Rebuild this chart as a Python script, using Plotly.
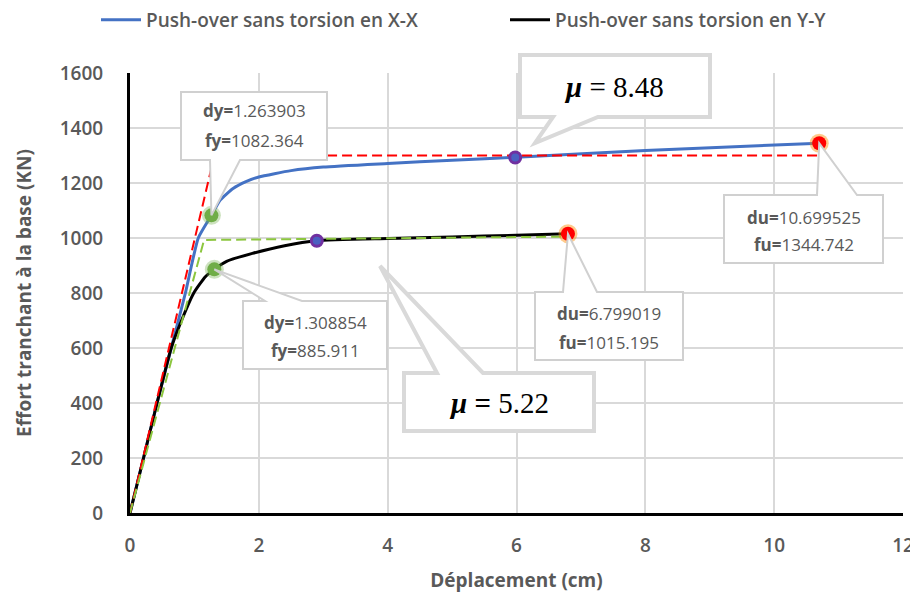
import plotly.graph_objects as go

# ---------------- data ----------------
disp_xx = [0, 0.21, 0.42, 0.64, 0.86, 1.06, 1.263903, 1.4, 1.6, 1.8, 2.0, 2.5, 3.0, 4.0, 5.0, 6.0, 8.0, 10.699525]
force_xx = [0, 200, 400, 600, 800, 1000, 1082.364, 1138, 1180, 1205, 1222, 1245, 1258, 1271, 1283, 1294, 1318, 1344.742]

disp_yy = [0, 0.21, 0.42, 0.64, 0.80, 0.99, 1.17, 1.308854, 1.5, 1.9, 2.4, 2.9, 4.0, 5.0, 6.0, 6.799019]
force_yy = [0, 200, 400, 600, 700, 800, 859, 885.911, 915, 944, 972, 990, 998, 1004, 1010, 1015.195]

ideal_xx_d = [0, 1.31, 10.699525]
ideal_xx_f = [0, 1300, 1300]
ideal_yy_d = [0, 1.15, 6.799019]
ideal_yy_f = [0, 993, 1005]

yield_d = [1.263903, 1.308854]
yield_f = [1082.364, 885.911]
ult_d = [10.699525, 6.799019]
ult_f = [1344.742, 1015.195]
mid_d = [5.98, 2.9]
mid_f = [1293, 990]

mu_values = ["8.48", "5.22"]
series_names = ["Push-over sans torsion en X-X", "Push-over sans torsion en Y-Y"]
x_ticks = [0, 2, 4, 6, 8, 10, 12]
y_ticks = [0, 200, 400, 600, 800, 1000, 1200, 1400, 1600]

# ---------------- layout geometry ----------------
# the page adds an 8px body margin, so the figure is shrunk/offset by 8px
OFF = 8
W, H = 918 - OFF, 606 - OFF
L, R, T, B = 130, 903, 73, 513          # plot area in window pixels
XMAX, YMAX = 12, 1600
GRAY = "#595959"
SANS = "Open Sans, Lato, sans-serif"


def px(xp):
    return (xp - L) / (R - L)


def py(yp):
    return (B - yp) / (B - T)


def dx(v):
    return v / XMAX


def dy(v):
    return v / YMAX


def callout_path(x0, y0, x1, y1, edge, a, b, tip):
    """box in window pixels, wedge base a..b on edge, tip in paper coords"""
    X0, X1, Y0, Y1 = px(x0), px(x1), py(y0), py(y1)
    A, Bb = px(a), px(b)
    tx, ty = tip
    if edge == "bottom":
        pts = [(X0, Y0), (X1, Y0), (X1, Y1), (Bb, Y1), (tx, ty), (A, Y1), (X0, Y1)]
    else:
        pts = [(X0, Y0), (A, Y0), (tx, ty), (Bb, Y0), (X1, Y0), (X1, Y1), (X0, Y1)]
    return "M " + " L ".join(f"{p[0]:.5f},{p[1]:.5f}" for p in pts) + " Z"


fig = go.Figure()

fig.add_trace(go.Scatter(x=disp_xx, y=force_xx, mode="lines", name=series_names[0], legend="legend",
                         line=dict(color="#4472c4", width=3, shape="spline", smoothing=0.5)))
fig.add_trace(go.Scatter(x=disp_yy, y=force_yy, mode="lines", name=series_names[1], legend="legend2",
                         line=dict(color="#000000", width=3, shape="spline", smoothing=0.5)))
fig.add_trace(go.Scatter(x=ideal_xx_d, y=ideal_xx_f, mode="lines", showlegend=False,
                         line=dict(color="#ff0000", width=2, dash="10px,5px")))
fig.add_trace(go.Scatter(x=ideal_yy_d, y=ideal_yy_f, mode="lines", showlegend=False,
                         line=dict(color="#8cc63f", width=2, dash="10px,5px")))
# halos
fig.add_trace(go.Scatter(x=yield_d, y=yield_f, mode="markers", showlegend=False,
                         marker=dict(size=19, color="rgba(112,173,71,0.35)", line=dict(width=0))))
fig.add_trace(go.Scatter(x=yield_d, y=yield_f, mode="markers", showlegend=False,
                         marker=dict(size=14, color="#70ad47", line=dict(width=0))))
fig.add_trace(go.Scatter(x=ult_d, y=ult_f, mode="markers", showlegend=False,
                         marker=dict(size=19, color="rgba(255,140,0,0.45)", line=dict(width=0))))
fig.add_trace(go.Scatter(x=ult_d, y=ult_f, mode="markers", showlegend=False,
                         marker=dict(size=14, color="#ff0000", line=dict(width=0))))
fig.add_trace(go.Scatter(x=mid_d, y=mid_f, mode="markers", showlegend=False,
                         marker=dict(size=11, color="#4a5fc1", line=dict(width=3, color="#7030a0"))))

shapes = []
annotations = []
box_line = dict(color="#d0d0d0", width=2)
mu_line = dict(color="#d9d9d9", width=4)

shapes.append(dict(type="path", xref="paper", yref="paper", layer="above",
                   path=callout_path(181, 92, 327, 160, "bottom", 210, 240, (dx(yield_d[0]), dy(yield_f[0]))),
                   fillcolor="white", line=box_line))
shapes.append(dict(type="path", xref="paper", yref="paper", layer="above",
                   path=callout_path(724, 195, 883, 263, "top", 817, 857, (dx(ult_d[0]), dy(ult_f[0]))),
                   fillcolor="white", line=box_line))
shapes.append(dict(type="path", xref="paper", yref="paper", layer="above",
                   path=callout_path(243, 301, 387, 369, "top", 265, 302, (dx(yield_d[1]), dy(yield_f[1]))),
                   fillcolor="white", line=box_line))
shapes.append(dict(type="path", xref="paper", yref="paper", layer="above",
                   path=callout_path(535, 292, 683, 360, "top", 563, 597, (dx(ult_d[1]), dy(ult_f[1]))),
                   fillcolor="white", line=box_line))
shapes.append(dict(type="path", xref="paper", yref="paper", layer="above",
                   path=callout_path(520, 55, 710, 117, "bottom", 553, 598, (px(535), py(143))),
                   fillcolor="white", line=mu_line))
shapes.append(dict(type="path", xref="paper", yref="paper", layer="above",
                   path=callout_path(404, 373, 594, 431, "top", 437, 483, (px(380), py(266))),
                   fillcolor="white", line=mu_line))

lab_font = dict(family=SANS, size=17, color=GRAY)


def two_lines(cx, cy1, cy2, k1, v1, k2, v2):
    annotations.append(dict(xref="paper", yref="paper", x=px(cx), y=py(cy1), showarrow=False,
                            text=f"<b>{k1}=</b>{v1}", font=lab_font, xanchor="center", yanchor="middle"))
    annotations.append(dict(xref="paper", yref="paper", x=px(cx), y=py(cy2), showarrow=False,
                            text=f"<b>{k2}=</b>{v2}", font=lab_font, xanchor="center", yanchor="middle"))


two_lines(254, 111, 140, "dy", f"{yield_d[0]:.6f}", "fy", f"{yield_f[0]:.3f}")
two_lines(804, 217, 245, "du", f"{ult_d[0]:.6f}", "fu", f"{ult_f[0]:.3f}")
two_lines(315, 322, 350, "dy", f"{yield_d[1]:.6f}", "fy", f"{yield_f[1]:.3f}")
two_lines(609, 313, 342, "du", f"{ult_d[1]:.6f}", "fu", f"{ult_f[1]:.3f}")

mu_font = dict(family="Liberation Serif, DejaVu Serif, serif", size=29, color="#000000")
annotations.append(dict(xref="paper", yref="paper", x=px(614), y=py(87), showarrow=False,
                        text=f"<b><i>μ</i></b> = {mu_values[0]}", font=mu_font,
                        xanchor="center", yanchor="middle"))
annotations.append(dict(xref="paper", yref="paper", x=px(499), y=py(403), showarrow=False,
                        text=f"<b><i>μ</i> =</b> {mu_values[1]}", font=mu_font,
                        xanchor="center", yanchor="middle"))

axis_font = dict(family=SANS, size=19, color=GRAY, weight=600)
title_font = dict(family=SANS, size=19, color=GRAY, weight="bold")
leg_font = dict(family=SANS, size=19, color=GRAY, weight=600)


def leg(x_win):
    return dict(orientation="h", xref="container", yref="container",
                x=(x_win - OFF) / W, y=1 - (20 - OFF) / H, xanchor="left", yanchor="middle",
                font=leg_font, itemwidth=40, bgcolor="rgba(0,0,0,0)")


fig.update_layout(
    width=W, height=H,
    margin=dict(l=L - OFF, r=W + OFF - R, t=T - OFF, b=H + OFF - B, autoexpand=False),
    paper_bgcolor="white", plot_bgcolor="white",
    shapes=shapes, annotations=annotations,
    showlegend=True,
    legend=leg(96),
    legend2=leg(505),
    xaxis=dict(range=[0, XMAX], tickvals=x_ticks, ticktext=[str(v) for v in x_ticks],
               showgrid=True, gridcolor="#d9d9d9", gridwidth=1.5,
               showline=True, linecolor="black", linewidth=3, zeroline=False,
               ticks="", tickfont=axis_font, ticklabelstandoff=13,
               title=dict(text="Déplacement (cm)", font=title_font, standoff=17)),
    yaxis=dict(range=[0, YMAX], tickvals=y_ticks, ticktext=[str(v) for v in y_ticks],
               showgrid=True, gridcolor="#d9d9d9", gridwidth=1.5,
               showline=True, linecolor="black", linewidth=3, zeroline=False,
               ticks="", tickfont=axis_font, ticklabelstandoff=20,
               title=dict(text="Effort tranchant à la base (KN)", font=title_font, standoff=24)),
)

fig.write_html("out.html")
